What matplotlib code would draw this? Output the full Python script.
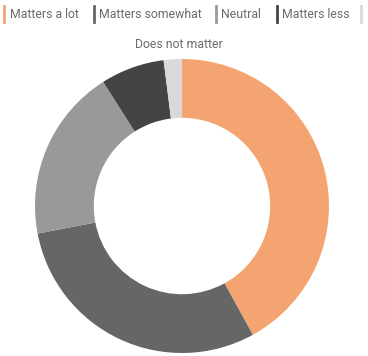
import matplotlib
matplotlib.use("Agg")
import matplotlib.pyplot as plt
from matplotlib.lines import Line2D

# ── Data ──────────────────────────────────────────────────────────────────────
categories = ["Matters a lot", "Matters somewhat", "Neutral", "Matters less", "Does not matter"]
shares = [42, 30, 19, 7, 2]
colors = ["#F4A470", "#666666", "#999999", "#444444", "#D9D9D9"]

W, H = 368, 356
fig = plt.figure(figsize=(W / 100, H / 100), dpi=100)

# ── Donut ─────────────────────────────────────────────────────────────────────
cx, cy, r = 182, 206, 147
ax = fig.add_axes([(cx - r) / W, (H - cy - r) / H, 2 * r / W, 2 * r / H])
ax.pie(shares, colors=colors, startangle=90, counterclock=False,
       radius=1.0, wedgeprops=dict(width=0.4, linewidth=0))
ax.set_xlim(-1, 1)
ax.set_ylim(-1, 1)
ax.axis("off")

# ── Legend (manual, wraps onto a second line) ─────────────────────────────────
legend_pos = [(4, 14), (94, 14), (216, 14), (277, 14), (361, 14)]
text_pos = [(10, 14), (99, 14), (221, 14), (282, 14), (179, 44)]
for name, col, (mx, my), (tx, ty) in zip(categories, colors, legend_pos, text_pos):
    fig.add_artist(Line2D([mx / W, mx / W], [1 - (my - 8) / H, 1 - (my + 8) / H],
                          color=col, linewidth=2, transform=fig.transFigure))
    ha = "center" if name == "Does not matter" else "left"
    fig.text(tx / W, 1 - ty / H, name, ha=ha, va="center",
             fontsize=8.8, color="#6A6A6A", family=["Roboto", "DejaVu Sans"])

fig.savefig("out.png", dpi=100)
